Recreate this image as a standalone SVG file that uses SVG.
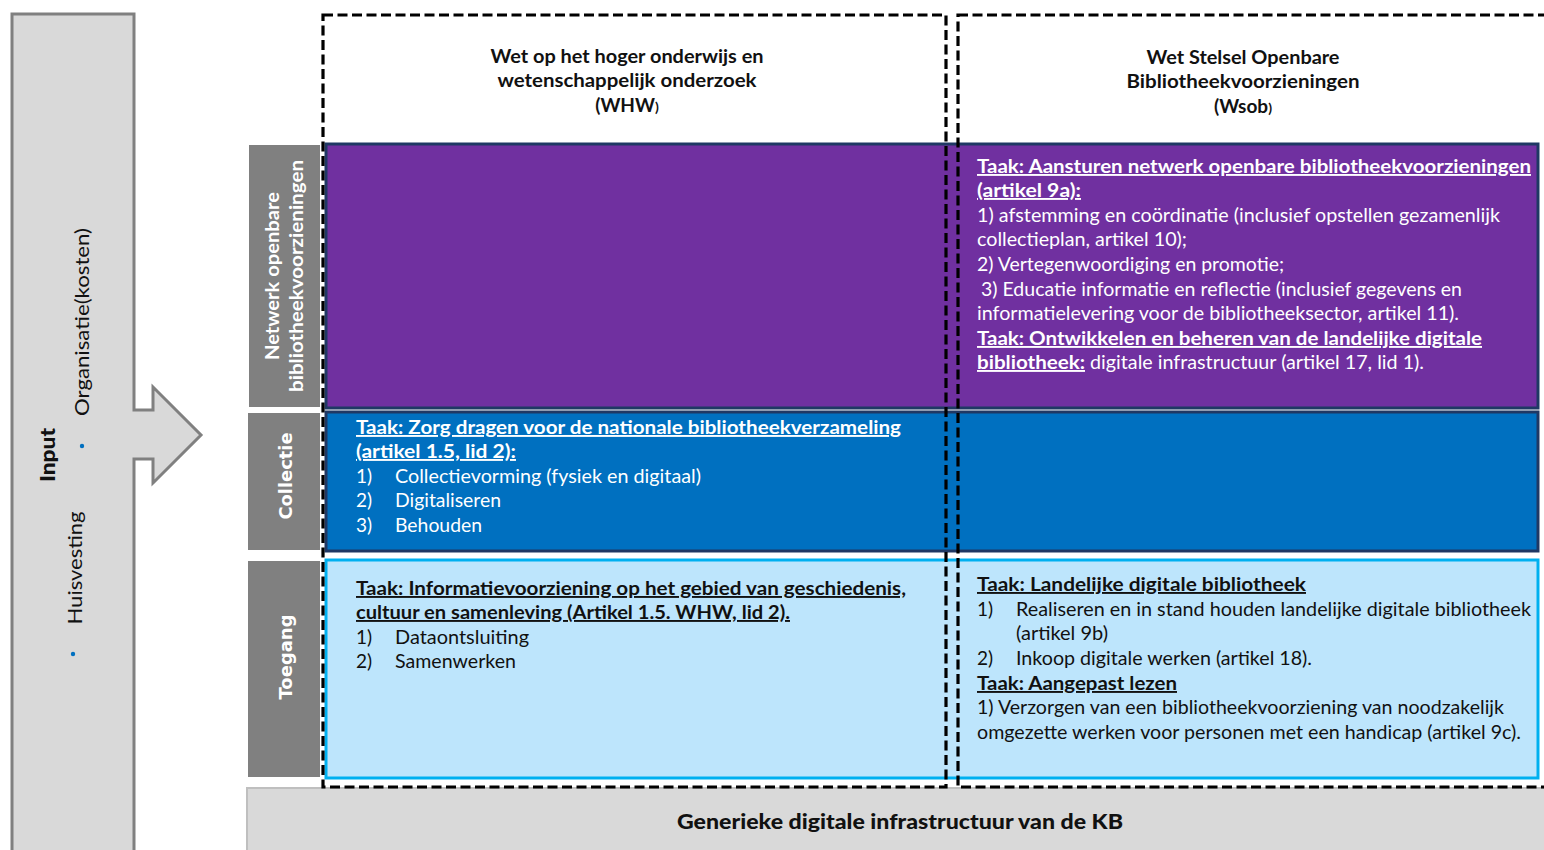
<svg xmlns="http://www.w3.org/2000/svg" width="1544" height="850" viewBox="0 0 1544 850">
<style>
text{font-family:Lato,"Noto Sans",sans-serif;font-size:19px}
.b{font-weight:bold}
.u{text-decoration:underline}
.w{fill:#ffffff}
.k{fill:#111111}
.hd{font-weight:bold;font-size:19px;fill:#111111;text-anchor:middle}
.lbl{fill:#808080;stroke:#ffffff;stroke-width:2}
.lt{fill:#ffffff;font-weight:bold;text-anchor:middle}
.dash{fill:none;stroke:#000000;stroke-width:3.2;stroke-dasharray:10 4.5}
</style>
<rect width="1544" height="850" fill="#ffffff"/>
<g id="input">
<path d="M12 14 H134 V410 H153 V387 L201 435 L153 483 V459 H134 V860 H12 Z" fill="#d9d9d9" stroke="#808080" stroke-width="3"/>
<text class="k" transform="translate(55,455) rotate(-90)" text-anchor="middle" style="font-weight:900;font-size:20px" textLength="54" lengthAdjust="spacingAndGlyphs">Input</text>
<text class="k" transform="translate(89,322) rotate(-90)" text-anchor="middle" textLength="188" lengthAdjust="spacingAndGlyphs">Organisatie(kosten)</text>
<circle cx="82" cy="446" r="2.2" fill="#0070c0"/>
<text class="k" transform="translate(82,568) rotate(-90)" text-anchor="middle" textLength="113" lengthAdjust="spacingAndGlyphs">Huisvesting</text>
<circle cx="73" cy="654" r="2.2" fill="#0070c0"/>
</g>
<g id="label-netwerk">
<rect class="lbl" x="248" y="144" width="73" height="264"/>
<text class="lt" transform="translate(279,276) rotate(-90)" textLength="168" lengthAdjust="spacingAndGlyphs">Netwerk openbare</text>
<text class="lt" transform="translate(303,276) rotate(-90)" textLength="232" lengthAdjust="spacingAndGlyphs">bibliotheekvoorzieningen</text>
</g>
<g id="label-collectie">
<rect class="lbl" x="247" y="412" width="74" height="139"/>
<text class="lt" transform="translate(292,476) rotate(-90)" style="font-family:'DejaVu Sans',sans-serif;font-size:18px" textLength="87" lengthAdjust="spacingAndGlyphs">Collectie</text>
</g>
<g id="label-toegang">
<rect class="lbl" x="247" y="560" width="74" height="218"/>
<text class="lt" transform="translate(292,657) rotate(-90)" style="font-family:'DejaVu Sans',sans-serif;font-size:18px" textLength="85" lengthAdjust="spacingAndGlyphs">Toegang</text>
</g>
<g id="bottom-bar">
<rect x="247" y="788" width="1300" height="70" fill="#d9d9d9" stroke="#bfbfbf" stroke-width="2"/>
<text class="k" x="900" y="829" text-anchor="middle" style="font-weight:900;font-size:21px" textLength="446" lengthAdjust="spacingAndGlyphs">Generieke digitale infrastructuur van de KB</text>
</g>
<g id="row-netwerk">
<rect x="326" y="144" width="1212" height="264" fill="#7030a0" stroke="#1f3864" stroke-width="3"/>
<text class="w b u" x="977" y="173" textLength="554" lengthAdjust="spacingAndGlyphs">Taak: Aansturen netwerk openbare bibliotheekvoorzieningen</text>
<text class="w b u" x="977" y="197" textLength="104" lengthAdjust="spacingAndGlyphs">(artikel 9a):</text>
<text class="w" x="977" y="222" textLength="523" lengthAdjust="spacingAndGlyphs">1) afstemming en coördinatie (inclusief opstellen gezamenlijk</text>
<text class="w" x="977" y="246" textLength="210" lengthAdjust="spacingAndGlyphs">collectieplan, artikel 10);</text>
<text class="w" x="977" y="271" textLength="307" lengthAdjust="spacingAndGlyphs">2) Vertegenwoordiging en promotie;</text>
<text class="w" x="981" y="296" textLength="481" lengthAdjust="spacingAndGlyphs">3) Educatie informatie en reflectie (inclusief gegevens en</text>
<text class="w" x="977" y="320" textLength="482" lengthAdjust="spacingAndGlyphs">informatielevering voor de bibliotheeksector, artikel 11).</text>
<text class="w b u" x="977" y="345" textLength="505" lengthAdjust="spacingAndGlyphs">Taak: Ontwikkelen en beheren van de landelijke digitale</text>
<text class="w b u" x="977" y="369" textLength="108" lengthAdjust="spacingAndGlyphs">bibliotheek:</text>
<text class="w" x="1090" y="369" textLength="334" lengthAdjust="spacingAndGlyphs">digitale infrastructuur (artikel 17, lid 1).</text>
</g>
<g id="row-collectie">
<rect x="326" y="412" width="1212" height="139" fill="#0070c0" stroke="#1f3864" stroke-width="3"/>
<text class="w b u" x="356" y="434" textLength="545" lengthAdjust="spacingAndGlyphs">Taak: Zorg dragen voor de nationale bibliotheekverzameling</text>
<text class="w b u" x="356" y="458" textLength="160" lengthAdjust="spacingAndGlyphs">(artikel 1.5, lid 2):</text>
<text class="w" x="356" y="483">1)</text>
<text class="w" x="395" y="483" textLength="306" lengthAdjust="spacingAndGlyphs">Collectievorming (fysiek en digitaal)</text>
<text class="w" x="356" y="507">2)</text>
<text class="w" x="395" y="507" textLength="106" lengthAdjust="spacingAndGlyphs">Digitaliseren</text>
<text class="w" x="356" y="532">3)</text>
<text class="w" x="395" y="532" textLength="87" lengthAdjust="spacingAndGlyphs">Behouden</text>
</g>
<g id="row-toegang">
<rect x="326" y="560" width="1212" height="218" fill="#bde5fc" stroke="#00b0f0" stroke-width="3"/>
<text class="k b u" x="356" y="595" textLength="550" lengthAdjust="spacingAndGlyphs">Taak: Informatievoorziening op het gebied van geschiedenis,</text>
<text class="k b u" x="356" y="619" textLength="434" lengthAdjust="spacingAndGlyphs">cultuur en samenleving (Artikel 1.5. WHW, lid 2).</text>
<text class="k" x="356" y="644">1)</text>
<text class="k" x="395" y="644" textLength="134" lengthAdjust="spacingAndGlyphs">Dataontsluiting</text>
<text class="k" x="356" y="668">2)</text>
<text class="k" x="395" y="668" textLength="121" lengthAdjust="spacingAndGlyphs">Samenwerken</text>
<text class="k b u" x="977" y="591" textLength="329" lengthAdjust="spacingAndGlyphs">Taak: Landelijke digitale bibliotheek</text>
<text class="k" x="977" y="616">1)</text>
<text class="k" x="1016" y="616" textLength="515" lengthAdjust="spacingAndGlyphs">Realiseren en in stand houden landelijke digitale bibliotheek</text>
<text class="k" x="1016" y="640" textLength="92" lengthAdjust="spacingAndGlyphs">(artikel 9b)</text>
<text class="k" x="977" y="665">2)</text>
<text class="k" x="1016" y="665" textLength="296" lengthAdjust="spacingAndGlyphs">Inkoop digitale werken (artikel 18).</text>
<text class="k b u" x="977" y="690" textLength="200" lengthAdjust="spacingAndGlyphs">Taak: Aangepast lezen</text>
<text class="k" x="977" y="714" textLength="527" lengthAdjust="spacingAndGlyphs">1) Verzorgen van een bibliotheekvoorziening van noodzakelijk</text>
<text class="k" x="977" y="739" textLength="544" lengthAdjust="spacingAndGlyphs">omgezette werken voor personen met een handicap (artikel 9c).</text>
</g>
<g id="col-whw">
<rect class="dash" x="323" y="15" width="623" height="772"/>
<text class="hd" x="627" y="63" textLength="273" lengthAdjust="spacingAndGlyphs">Wet op het hoger onderwijs en</text>
<text class="hd" x="627" y="87" textLength="259" lengthAdjust="spacingAndGlyphs">wetenschappelijk onderzoek</text>
<text class="hd" x="627" y="112">(WHW<tspan style="font-size:14px">)</tspan></text>
</g>
<g id="col-wsob">
<rect class="dash" x="958" y="15" width="592" height="772"/>
<text class="hd" x="1243" y="64" textLength="193" lengthAdjust="spacingAndGlyphs">Wet Stelsel Openbare</text>
<text class="hd" x="1243" y="88" textLength="233" lengthAdjust="spacingAndGlyphs">Bibliotheekvoorzieningen</text>
<text class="hd" x="1243" y="113">(Wsob<tspan style="font-size:14px">)</tspan></text>
</g>
<g id="connectors"></g>
</svg>
